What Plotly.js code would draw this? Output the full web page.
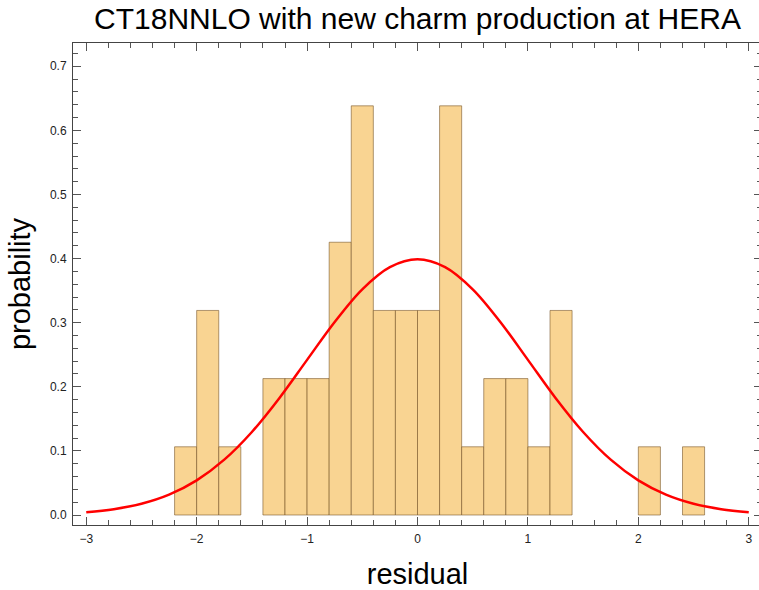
<!DOCTYPE html>
<html>
<head>
<meta charset="utf-8">
<script src="https://cdn.plot.ly/plotly-3.0.1.min.js"></script>
<style>
html,body{margin:0;padding:0;overflow:hidden;background:#fff;}
#chart{width:763px;height:590px;}
</style>
</head>
<body>
<div id="chart"></div>
<script>
// Histogram bins (left edges) and probability densities
var binLeft = [-2.2, -2.0, -1.8, -1.4, -1.2, -1.0, -0.8, -0.6, -0.4, -0.2, 0.0, 0.2, 0.4, 0.6, 0.8, 1.0, 1.2, 2.0, 2.4];
var binProb = [0.1064, 0.3191, 0.1064, 0.2128, 0.2128, 0.2128, 0.4255, 0.6383, 0.3191, 0.3191, 0.3191, 0.6383, 0.1064, 0.2128, 0.2128, 0.1064, 0.3191, 0.1064, 0.1064];
var binWidth = 0.2;

// Red curve values
var curveX = [-3, -2.75, -2.5, -2.25, -2, -1.75, -1.5, -1.25, -1, -0.75, -0.5, -0.25, 0, 0.25, 0.5, 0.75, 1, 1.25, 1.5, 1.75, 2, 2.25, 2.5, 2.75, 3];
var curveY = [0.0044, 0.0091, 0.0175, 0.0317, 0.054, 0.0863, 0.1295, 0.1826, 0.242, 0.3011, 0.3521, 0.3867, 0.3989, 0.3867, 0.3521, 0.3011, 0.242, 0.1826, 0.1295, 0.0863, 0.054, 0.0317, 0.0175, 0.0091, 0.0044];

var titleText = "CT18NNLO with new charm production at HERA";
var xTitle = "residual";
var yTitle = "probability";

var barX = binLeft.map(function(v){ return v + binWidth/2; });

var frameColor = "#444444";
var font = "Liberation Sans, Arial, sans-serif";

var traces = [
  {
    type: "bar",
    x: barX,
    y: binProb,
    width: binWidth,
    marker: {color: "#F9D492", line: {color: "rgba(110,75,30,0.55)", width: 1}},
    hoverinfo: "x+y",
    showlegend: false
  },
  {
    type: "scatter",
    mode: "lines",
    x: curveX,
    y: curveY,
    line: {color: "#ff0000", width: 2.5, shape: "spline", smoothing: 1},
    showlegend: false
  }
];

var layout = {
  width: 763,
  height: 590,
  margin: {l: 73, r: 1, t: 43, b: 65},
  paper_bgcolor: "#ffffff",
  plot_bgcolor: "#ffffff",
  font: {family: font, color: "#222222"},
  bargap: 0,
  title: {
    text: titleText,
    font: {family: font, size: 30, color: "#000000"},
    x: 0.5, xref: "paper", xanchor: "center",
    y: 0.968, yref: "container", yanchor: "middle"
  },
  xaxis: {
    range: [-3.12, 3.12],
    showgrid: false,
    zeroline: false,
    showline: true,
    linecolor: frameColor,
    linewidth: 1,
    mirror: "allticks",
    ticks: "inside",
    ticklen: 8,
    tickwidth: 1,
    tickcolor: "#555555",
    dtick: 1,
    tick0: 0,
    ticklabelstandoff: 3,
    tickfont: {family: font, size: 12, color: "#222222"},
    minor: {dtick: 0.2, tick0: 0, ticks: "inside", ticklen: 5, tickcolor: "#555555", tickwidth: 1, showgrid: false},
    title: {text: xTitle, font: {family: font, size: 29, color: "#000000"}, standoff: 20}
  },
  yaxis: {
    range: [-0.0156, 0.7363],
    showgrid: false,
    zeroline: false,
    showline: true,
    linecolor: frameColor,
    linewidth: 1,
    mirror: "allticks",
    ticks: "inside",
    ticklen: 8,
    tickwidth: 1,
    tickcolor: "#555555",
    dtick: 0.1,
    tick0: 0,
    tickformat: ".1f",
    ticklabelstandoff: 3,
    tickfont: {family: font, size: 12, color: "#222222"},
    minor: {dtick: 0.02, tick0: 0, ticks: "inside", ticklen: 5, tickcolor: "#555555", tickwidth: 1, showgrid: false},
    title: {text: yTitle, font: {family: font, size: 29, color: "#000000"}, standoff: 10}
  }
};

Plotly.newPlot("chart", traces, layout, {displayModeBar: false, staticPlot: true});
</script>
</body>
</html>
